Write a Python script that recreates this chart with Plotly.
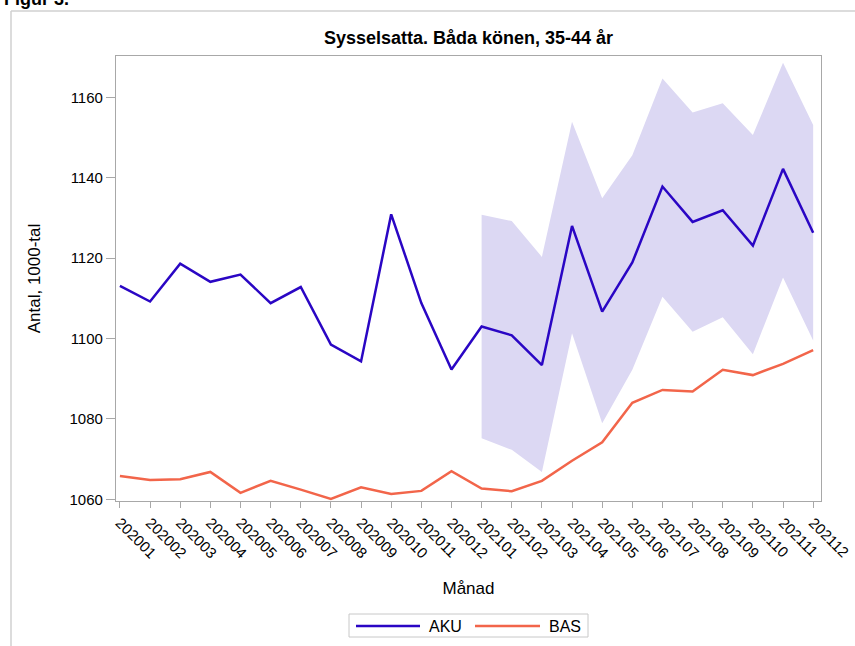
import plotly.graph_objects as go

months = ["202001","202002","202003","202004","202005","202006","202007","202008",
          "202009","202010","202011","202012","202101","202102","202103","202104",
          "202105","202106","202107","202108","202109","202110","202111","202112"]
aku = [1113.1,1109.2,1118.6,1114.1,1115.9,1108.8,1112.8,1098.5,1094.3,1130.9,1108.8,1092.3,
       1103.0,1100.8,1093.4,1128.0,1106.7,1118.9,1137.8,1129.0,1131.9,1123.1,1142.2,1126.3]
bas = [1065.8,1064.8,1065.0,1066.8,1061.6,1064.6,1062.4,1060.1,1063.0,1061.3,1062.1,1067.0,
       1062.7,1062.0,1064.6,1069.6,1074.2,1084.0,1087.2,1086.8,1092.2,1090.9,1093.7,1097.1]
band_months = months[12:]
aku_upper = [1130.8,1129.2,1120.3,1153.9,1134.9,1145.6,1164.7,1156.2,1158.5,1150.6,1168.6,1153.1]
aku_lower = [1075.2,1072.3,1066.8,1101.3,1078.9,1092.2,1110.4,1101.7,1105.3,1096.1,1115.2,1099.5]
y_ticks = [1060,1080,1100,1120,1140,1160]

BLUE = "#2A06C4"
RED = "#F2654A"
BAND = "#DCD8F3"
GRID = "#A8A8A8"
FONT = "Liberation Sans, Arial, sans-serif"

xi = list(range(len(months)))
bi = [months.index(m) for m in band_months]

fig = go.Figure()
fig.add_trace(go.Scatter(x=bi, y=aku_lower, mode="lines", line=dict(width=0),
                         showlegend=False, hoverinfo="skip"))
fig.add_trace(go.Scatter(x=bi, y=aku_upper, mode="lines", line=dict(width=0),
                         fill="tonexty", fillcolor=BAND, showlegend=False, hoverinfo="skip"))
fig.add_trace(go.Scatter(x=xi, y=aku, mode="lines", name="AKU",
                         line=dict(color=BLUE, width=2.5)))
fig.add_trace(go.Scatter(x=xi, y=bas, mode="lines", name="BAS",
                         line=dict(color=RED, width=2.5)))

L, R, T, B = 116, 34, 56, 145
W, H = 855, 646
pw, ph = W - L - R, H - T - B

def px(x):
    return (x - L) / pw

def py(y):
    return (H - B - y) / ph

shapes = [
    # outer frame (open to the right and bottom)
    dict(type="line", xref="paper", yref="paper", x0=px(11), x1=px(900), y0=py(11), y1=py(11),
         line=dict(color="#D0D0D0", width=1.5)),
    dict(type="line", xref="paper", yref="paper", x0=px(11), x1=px(11), y0=py(11), y1=py(700),
         line=dict(color="#D0D0D0", width=1.5)),
    # legend box
    dict(type="rect", xref="paper", yref="paper", x0=px(349), x1=px(588), y0=py(614), y1=py(637),
         line=dict(color="#C8C8C8", width=1), fillcolor="white"),
    dict(type="line", xref="paper", yref="paper", x0=px(356), x1=px(420), y0=py(626), y1=py(626),
         line=dict(color=BLUE, width=2.5)),
    dict(type="line", xref="paper", yref="paper", x0=px(475), x1=px(540), y0=py(626), y1=py(626),
         line=dict(color=RED, width=2.5)),
]

annotations = [
    dict(text="<b>Figur 3.</b>", xref="paper", yref="paper", x=px(2), y=py(11),
         xanchor="left", yanchor="bottom", showarrow=False,
         font=dict(family=FONT, size=18, color="black")),
    dict(text="AKU", xref="paper", yref="paper", x=px(427), y=py(626),
         xanchor="left", yanchor="middle", showarrow=False,
         font=dict(family=FONT, size=16, color="black")),
    dict(text="BAS", xref="paper", yref="paper", x=px(547), y=py(626),
         xanchor="left", yanchor="middle", showarrow=False,
         font=dict(family=FONT, size=16, color="black")),
]

fig.update_layout(
    width=W, height=H,
    margin=dict(l=L, r=R, t=T, b=B, autoexpand=False),
    paper_bgcolor="white", plot_bgcolor="white",
    showlegend=False,
    title=dict(text="<b>Sysselsatta. Båda könen, 35-44 år</b>", x=(L + pw / 2) / W, xanchor="center",
               y=1 - 38 / H, yanchor="middle",
               font=dict(family=FONT, size=18, color="black")),
    font=dict(family=FONT, color="black"),
    shapes=shapes,
    annotations=annotations,
)

fig.update_xaxes(
    range=[-0.13, 23.26], tickmode="array", tickvals=xi, ticktext=months,
    tickangle=45, tickfont=dict(size=15, color="black"),
    ticks="outside", ticklen=6, tickcolor=GRID,
    showline=True, linecolor=GRID, linewidth=1.2, mirror=True,
    showgrid=False, zeroline=False, automargin=False,
    title=dict(text="Månad", font=dict(size=17, color="black"), standoff=21),
)
fig.update_yaxes(
    range=[1059.58, 1170.27], tickmode="array", tickvals=y_ticks,
    tickfont=dict(size=15, color="black"),
    ticks="outside", ticklen=9, tickcolor=GRID,
    showline=True, linecolor=GRID, linewidth=1.2, mirror=True,
    showgrid=False, zeroline=False, automargin=False,
    title=dict(text="Antal, 1000-tal", font=dict(size=17, color="black"), standoff=24),
)

fig.write_html("out.html", config={"displayModeBar": False},
               post_script="document.body.style.margin='0';")
